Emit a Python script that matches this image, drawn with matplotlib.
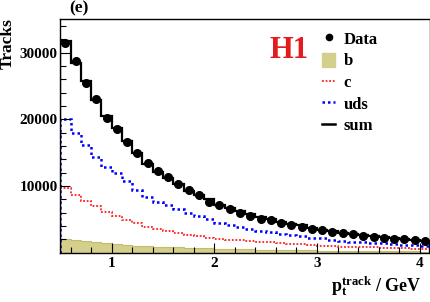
import numpy as np
import matplotlib
matplotlib.use("Agg")
import matplotlib.pyplot as plt
from matplotlib.lines import Line2D
from matplotlib.patches import Patch

# ---- data ----
edges = np.round(np.arange(0.5, 4.1001, 0.1), 2)
data = [31400, 28700, 25400, 23100, 20200, 18500, 16600, 15000, 13400, 12300,
        11400, 10300, 9400, 8700, 7600, 7100, 6600, 6000, 5500, 5100,
        4900, 4500, 4200, 3800, 3500, 3400, 3100, 2900, 2800, 2500,
        2400, 2200, 2100, 2000, 1900, 1700]
uds = [20000, 17900, 16200, 14400, 12900, 12000, 10700, 9400, 8400, 7600,
       7100, 6600, 5900, 5500, 5100, 4500, 4200, 3900, 3550, 3300,
       3050, 2800, 2650, 2500, 2250, 2150, 1950, 1750, 1650, 1550,
       1450, 1380, 1280, 1180, 1080, 1000]
c = [9700, 8700, 7800, 6950, 6150, 5500, 4950, 4480, 3900, 3600,
     3250, 2950, 2650, 2450, 2250, 2100, 1950, 1870, 1730, 1620,
     1520, 1420, 1320, 1230, 1120, 1000, 950, 900, 850, 800,
     760, 720, 680, 640, 600, 570]
b = [2100, 1900, 1700, 1550, 1400, 1250, 1150, 1050, 970, 900,
     830, 770, 710, 660, 620, 570, 530, 490, 460, 430,
     400, 370, 350, 330, 310, 290, 270, 250, 235, 220,
     205, 190, 180, 170, 160, 150]
total = list(np.array(b) + np.array(c) + np.array(uds))
labels = ["Data", "b", "c", "uds", "sum"]

plt.rcParams['font.family'] = ['Liberation Serif', 'DejaVu Serif']
plt.rcParams['font.weight'] = 'bold'
plt.rcParams['mathtext.fontset'] = 'custom'
plt.rcParams['mathtext.rm'] = 'Liberation Serif:bold'
plt.rcParams['mathtext.it'] = 'Liberation Serif:bold'
plt.rcParams['mathtext.bf'] = 'Liberation Serif:bold'

W, H = 431, 302
fig = plt.figure(figsize=(W / 100, H / 100), dpi=100)
ax = fig.add_axes([60.3 / W, 1 - 252.5 / H, (430 - 60.3) / W, (252.5 - 19.3) / H])

bcol = '#d4cf8c'
ax.stairs(b, edges, fill=True, facecolor=bcol, edgecolor=bcol, lw=0)
ax.stairs(b, edges, color='#c2bc6e', lw=0.8)
ax.stairs(c, edges, color='#ff2020', lw=1.3, linestyle=(0, (1, 1)))
ax.stairs(uds, edges, color='#0000ff', lw=1.8, linestyle=(0, (1, 1.2)))
ax.stairs(total, edges, color='black', lw=1.6)
centers = 0.5 * (edges[:-1] + edges[1:])
ax.plot(centers, data, 'o', color='black', ms=5.5, zorder=5)

ax.set_xlim(0.5, 4.1)
ax.set_ylim(0, 35000)
ax.set_xticks([1, 2, 3, 4])
ax.set_xticks(np.arange(0.6, 4.1, 0.2), minor=True)
ax.set_yticks([10000, 20000, 30000])
ax.set_yticks(np.arange(2000, 35000, 2000), minor=True)
ax.tick_params(which='both', direction='in', top=False, right=False,
               labelsize=11, width=0.8)
ax.tick_params(which='major', length=7, pad=3)
ax.tick_params(which='minor', length=4)
ax.tick_params(axis='y', which='major', pad=2)
for sp in ax.spines.values():
    sp.set_linewidth(1.0)

for lab in ax.get_xticklabels() + ax.get_yticklabels():
    lab.set_fontweight('bold')

fig.text(79 / W, 1 - 8.5 / H, "(e)", ha='center', va='center', fontsize=12.5, fontweight='bold')
fig.text(7.5 / W, 1 - 18.5 / H, "Tracks", ha='center', va='top', rotation=90,
         fontsize=12.5, fontweight='bold')
fig.text(422 / W, 1 - 291 / H, r"$p_{t}^{track}$ / GeV", ha='right', va='baseline',
         fontsize=13, fontweight='bold')
fig.text(289 / W, 1 - 51 / H, "H1", ha='center', va='center', fontsize=22,
         fontweight='bold', color='#e51a1e')

handles = [
    Line2D([], [], marker='o', ls='none', color='black', ms=4.5),
    Patch(facecolor=bcol, edgecolor=bcol),
    Line2D([], [], color='#ff2020', lw=1.3, ls=(0, (1, 1))),
    Line2D([], [], color='#0000ff', lw=1.8, ls=(0, (1, 1.2))),
    Line2D([], [], color='black', lw=1.8),
]
leg = fig.legend(handles, labels, loc='upper left', bbox_to_anchor=(322 / W, 1 - 31 / H),
                 frameon=False, fontsize=12, handlelength=0.8, handleheight=0.9,
                 handletextpad=0.5, labelspacing=0.3, borderpad=0, borderaxespad=0)
for t in leg.get_texts():
    t.set_fontweight('bold')

fig.savefig("out.png", dpi=100)
